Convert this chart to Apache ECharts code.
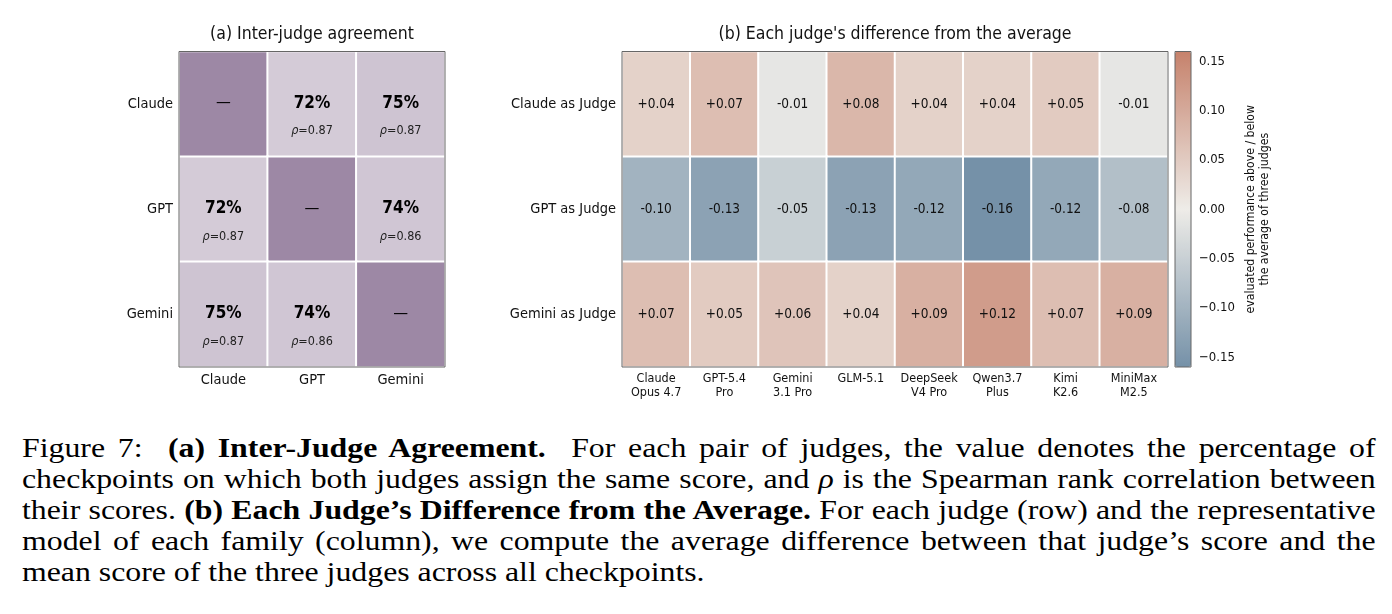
<!DOCTYPE html>
<html>
<head>
<meta charset="utf-8">
<script src="https://cdn.jsdelivr.net/npm/echarts@6/dist/echarts.min.js"></script>
<style>
  body { margin: 0; background: #fff; }
  #wrap { position: relative; width: 1392px; height: 614px; overflow: hidden; }
  #container { position: absolute; left: 0; top: 0; width: 1392px; height: 420px; }
  #caption {
    position: absolute; left: 22px; top: 433px; width: 1128px;
    transform: scaleX(1.2); transform-origin: left top;
    font-family: 'Liberation Serif', 'DejaVu Serif', serif; font-size: 26.5px; line-height: 31px; color: #000;
  }
  #caption div { text-align: justify; text-align-last: justify; white-space: nowrap; }
  #caption div.last { text-align-last: left; }
</style>
</head>
<body>
<div id="wrap">
  <div id="container"></div>
  <div id="caption">
    <div>Figure 7:&nbsp; <b>(a) Inter-Judge Agreement.</b>&nbsp; For each pair of judges, the value denotes the percentage of</div>
    <div>checkpoints on which both judges assign the same score, and <i>ρ</i> is the Spearman rank correlation between</div>
    <div>their scores. <b>(b) Each Judge’s Difference from the Average.</b> For each judge (row) and the representative</div>
    <div>model of each family (column), we compute the average difference between that judge’s score and the</div>
    <div class="last">mean score of the three judges across all checkpoints.</div>
  </div>
</div>
<script>
// (a) inter-judge agreement
var judges = ['Claude', 'GPT', 'Gemini'];
var agreementPct = [
    [null, 72, 75],
    [72, null, 74],
    [75, 74, null]
];
var spearmanRho = [
    [null, 0.87, 0.87],
    [0.87, null, 0.86],
    [0.87, 0.86, null]
];
var selfAgreement = 100;

// (b) each judge's difference from the average
var judgeRows = ['Claude as Judge', 'GPT as Judge', 'Gemini as Judge'];
var models = ['Claude\nOpus 4.7', 'GPT-5.4\nPro', 'Gemini\n3.1 Pro', 'GLM-5.1', 'DeepSeek\nV4 Pro', 'Qwen3.7\nPlus', 'Kimi\nK2.6', 'MiniMax\nM2.5'];
var claudeDiff = [0.04, 0.07, -0.01, 0.08, 0.04, 0.04, 0.05, -0.01];
var gptDiff = [-0.10, -0.13, -0.05, -0.13, -0.12, -0.16, -0.12, -0.08];
var geminiDiff = [0.07, 0.05, 0.06, 0.04, 0.09, 0.12, 0.07, 0.09];
var colorbarTicks = [-0.15, -0.10, -0.05, 0.00, 0.05, 0.10, 0.15];

var FONT = "'DejaVu Sans Condensed', 'DejaVu Sans', sans-serif";

var dom = document.getElementById('container');
var myChart = echarts.init(dom, null, { renderer: 'canvas' });

var agreeData = [];
judges.forEach(function (row, i) {
    judges.forEach(function (col, j) {
        agreeData.push([j, i, i === j ? selfAgreement : agreementPct[i][j]]);
    });
});

var diffData = [];
[claudeDiff, gptDiff, geminiDiff].forEach(function (rowVals, i) {
    rowVals.forEach(function (v, j) {
        diffData.push([j, i, v]);
    });
});

var catAxis = function (gridIndex, data, extra) {
    return Object.assign({
        type: 'category',
        gridIndex: gridIndex,
        data: data,
        axisLine: { show: false },
        axisTick: { show: false },
        splitArea: { show: false },
        splitLine: { show: false }
    }, extra);
};

var option = {
    animation: false,
    textStyle: { fontFamily: FONT },
    title: [
        {
            text: '(a) Inter-judge agreement',
            left: 312, top: 25, textAlign: 'center', padding: 0,
            textStyle: { fontFamily: FONT, fontSize: 17.5, fontWeight: 'normal', color: '#111' }
        },
        {
            text: "(b) Each judge's difference from the average",
            left: 895, top: 25, textAlign: 'center', padding: 0,
            textStyle: { fontFamily: FONT, fontSize: 17.5, fontWeight: 'normal', color: '#111' }
        }
    ],
    grid: [
        { left: 179, top: 51.5, width: 266, height: 315.5, show: true, z: 10, backgroundColor: 'transparent', borderColor: '#666', borderWidth: 1, containLabel: false, outerBoundsMode: 'none' },
        { left: 622, top: 51.5, width: 546, height: 315.5, show: true, z: 10, backgroundColor: 'transparent', borderColor: '#666', borderWidth: 1, containLabel: false, outerBoundsMode: 'none' },
        { left: 1175, top: 51.5, width: 16, height: 315.5, show: true, z: 10, backgroundColor: 'transparent', borderColor: '#666', borderWidth: 1, containLabel: false, outerBoundsMode: 'none' }
    ],
    xAxis: [
        catAxis(0, judges, { axisLabel: { interval: 0, margin: 6, fontFamily: FONT, fontSize: 14.5, color: '#111' } }),
        catAxis(1, models, { axisLabel: { interval: 0, margin: 5, fontFamily: FONT, fontSize: 12.5, lineHeight: 14, color: '#111' } }),
        { type: 'value', gridIndex: 2, show: false, min: 0, max: 1 }
    ],
    yAxis: [
        catAxis(0, judges, { inverse: true, axisLabel: { interval: 0, margin: 6, fontFamily: FONT, fontSize: 14.5, color: '#111' } }),
        catAxis(1, judgeRows, { inverse: true, axisLabel: { interval: 0, margin: 6, fontFamily: FONT, fontSize: 14.5, color: '#111' } }),
        {
            type: 'value', gridIndex: 2, position: 'right',
            min: -0.16, max: 0.16,
            axisLine: { show: false },
            splitLine: { show: false },
            axisTick: { show: true, customValues: colorbarTicks, length: 4, lineStyle: { color: '#333', width: 1 } },
            axisLabel: {
                customValues: colorbarTicks, margin: 8, fontFamily: FONT, fontSize: 13, color: '#111',
                formatter: function (v) { return (v < 0 ? '\u2212' : '') + Math.abs(v).toFixed(2); }
            },
            name: 'evaluated performance above / below\nthe average of three judges',
            nameLocation: 'middle', nameRotate: 90, nameGap: 53,
            nameTextStyle: { fontFamily: FONT, fontSize: 12.2, lineHeight: 14, color: '#111', align: 'center' }
        }
    ],
    visualMap: [
        {
            type: 'continuous', seriesIndex: 0, show: false,
            min: 50, max: 100,
            inRange: { color: ['#ffffff', '#9d88a5'] }
        },
        {
            type: 'continuous', seriesIndex: 1, show: true,
            min: -0.16, max: 0.16,
            calculable: false, hoverLink: false,
            orient: 'vertical', left: 1175, top: 51.5, padding: 0,
            itemWidth: 16, itemHeight: 315.5,
            text: null, showLabel: false,
            inRange: { color: ['#7591a8', '#eeece8', '#c6826c'] }
        }
    ],
    series: [
        {
            type: 'heatmap',
            xAxisIndex: 0, yAxisIndex: 0,
            data: agreeData,
            itemStyle: { borderColor: '#fff', borderWidth: 2 },
            emphasis: { disabled: true },
            label: {
                show: true,
                offset: [0, 13],
                formatter: function (p) {
                    var j = p.data[0], i = p.data[1];
                    if (i === j) return '{d|—}\n{g| }';
                    return '{pct|' + agreementPct[i][j] + '%}\n{rho|ρ}{rv|=' + spearmanRho[i][j].toFixed(2) + '}';
                },
                rich: {
                    pct: { fontFamily: FONT, fontSize: 17, fontWeight: 'bold', color: '#000', lineHeight: 28 },
                    d: { fontFamily: FONT, fontSize: 16.5, color: '#000', lineHeight: 28 },
                    g: { fontFamily: FONT, fontSize: 12.5, lineHeight: 28 },
                    rho: { fontFamily: FONT, fontSize: 12.5, fontStyle: 'italic', color: '#222', lineHeight: 28 },
                    rv: { fontFamily: FONT, fontSize: 12.5, color: '#222', lineHeight: 28 }
                }
            }
        },
        {
            type: 'heatmap',
            xAxisIndex: 1, yAxisIndex: 1,
            data: diffData,
            itemStyle: { borderColor: '#fff', borderWidth: 2 },
            emphasis: { disabled: true },
            label: {
                show: true,
                fontFamily: FONT, fontSize: 13.5, color: '#111',
                formatter: function (p) {
                    var v = p.data[2];
                    return (v > 0 ? '+' : '') + v.toFixed(2);
                }
            }
        }
    ]
};

if (option && typeof option === 'object') {
    myChart.setOption(option, true);
}
</script>
</body>
</html>
